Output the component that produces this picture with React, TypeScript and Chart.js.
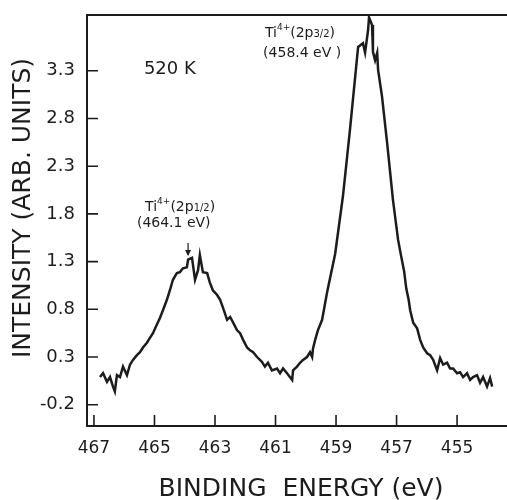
import React, { useEffect, useRef } from "react";
import { Chart, registerables } from "chart.js";

Chart.register(...registerables);

// Binding energy (eV), high to low
const energy = [
  466.8, 466.7, 466.57, 466.47, 466.37, 466.31, 466.24, 466.14, 466.04, 465.91,
  465.81, 465.71, 465.58, 465.48, 465.38, 465.25, 465.15, 465.05, 464.92, 464.82,
  464.72, 464.59, 464.49, 464.39, 464.26, 464.16, 464.06, 463.93, 463.89, 463.76,
  463.66, 463.56, 463.5, 463.4, 463.26, 463.17, 463.07, 462.93, 462.83, 462.74,
  462.6, 462.5, 462.4, 462.27, 462.17, 462.07, 461.94, 461.84, 461.74, 461.61,
  461.45, 461.35, 461.25, 461.12, 460.95, 460.85, 460.75, 460.62, 460.45, 460.42,
  460.29, 460.19, 460.09, 459.96, 459.86, 459.79, 459.76, 459.69, 459.6, 459.46,
  459.3, 459.03, 458.77, 458.54, 458.27, 458.11, 458.04, 457.94, 457.91, 457.81,
  457.78, 457.71, 457.64, 457.61, 457.48, 457.31, 457.12, 456.95, 456.85, 456.75,
  456.68, 456.6, 456.55, 456.45, 456.32, 456.22, 456.12, 455.99, 455.89, 455.79,
  455.66, 455.56, 455.46, 455.33, 455.23, 455.13, 455.0, 454.9, 454.8, 454.67,
  454.57, 454.47, 454.34, 454.24, 454.14, 454.01, 453.91, 453.84,
];

// Intensity (arb. units)
const intensity = [
  0.09, 0.13, 0.04, 0.09, -0.01, -0.06, 0.11, 0.09, 0.2, 0.11,
  0.22, 0.27, 0.32, 0.35, 0.4, 0.45, 0.5, 0.55, 0.64, 0.71,
  0.79, 0.9, 1.0, 1.11, 1.18, 1.19, 1.23, 1.24, 1.32, 1.34,
  1.11, 1.21, 1.37, 1.19, 1.18, 1.08, 1.0, 0.95, 0.9, 0.82,
  0.69, 0.72, 0.66, 0.58, 0.55, 0.48, 0.4, 0.37, 0.35, 0.3,
  0.25, 0.2, 0.24, 0.16, 0.18, 0.13, 0.18, 0.13, 0.06, 0.16,
  0.2, 0.24, 0.27, 0.3, 0.35, 0.3, 0.39, 0.48, 0.58, 0.69,
  0.97, 1.38, 1.99, 2.68, 3.55, 3.59, 3.49, 3.73, 3.86, 3.78,
  3.5, 3.41, 3.49, 3.31, 3.03, 2.54, 1.95, 1.53, 1.36, 1.2,
  1.02, 0.9, 0.79, 0.66, 0.6, 0.48, 0.4, 0.34, 0.32, 0.27,
  0.16, 0.29, 0.22, 0.24, 0.18, 0.18, 0.13, 0.14, 0.09, 0.13,
  0.06, 0.09, 0.11, 0.03, 0.09, -0.01, 0.08, -0.01,
];

const xTicks = [467, 465, 463, 461, 459, 457, 455];
const yTicks = [-0.2, 0.3, 0.8, 1.3, 1.8, 2.3, 2.8, 3.3];
const xMin = 453.35;
const xMax = 467.23;
const yMin = -0.423;
const yMax = 3.885;

const xTitle = "BINDING  ENERGY (eV)";
const yTitle = "INTENSITY (ARB. UNITS)";
const tempLabel = "520 K";

const FONT = "'DejaVu Sans', 'Liberation Sans', sans-serif";
const INK = "#1c1c1c";

type Seg = { t: string; size: number; dy: number };

// annotations: anchor in data units (eV, intensity)
const annotations: { x: number; y: number; segs: Seg[] }[] = [
  {
    x: 465.31,
    y: 1.83,
    segs: [
      { t: "Ti", size: 14, dy: 0 },
      { t: "4+", size: 9, dy: -7 },
      { t: "(2p", size: 14, dy: 0 },
      { t: "1/2", size: 10, dy: 0 },
      { t: ")", size: 14, dy: 0 },
    ],
  },
  { x: 465.58, y: 1.66, segs: [{ t: "(464.1 eV)", size: 14, dy: 0 }] },
  {
    x: 461.35,
    y: 3.65,
    segs: [
      { t: "Ti", size: 14, dy: 0 },
      { t: "4+", size: 9, dy: -7 },
      { t: "(2p", size: 14, dy: 0 },
      { t: "3/2", size: 10, dy: 0 },
      { t: ")", size: 14, dy: 0 },
    ],
  },
  { x: 461.41, y: 3.44, segs: [{ t: "(458.4 eV )", size: 14, dy: 0 }] },
];
const arrow = { x: 463.89, yFrom: 1.495, yTo: 1.37 };
const tempPos = { x: 465.35, y: 3.27 };

const decorPlugin = {
  id: "decor",
  afterDraw(chart: any) {
    const { ctx, chartArea } = chart;
    const xs = chart.scales.x;
    const ys = chart.scales.y;
    const { left, right, top, bottom } = chartArea;
    ctx.save();
    ctx.strokeStyle = INK;
    ctx.lineWidth = 2;
    ctx.beginPath();
    ctx.moveTo(right, top);
    ctx.lineTo(left, top);
    ctx.lineTo(left, bottom);
    ctx.lineTo(right, bottom);
    ctx.stroke();

    ctx.lineWidth = 1.6;
    ctx.beginPath();
    yTicks.forEach((v) => {
      const y = ys.getPixelForValue(v);
      ctx.moveTo(left, y);
      ctx.lineTo(left + 11, y);
    });
    xTicks.forEach((v) => {
      const x = xs.getPixelForValue(v);
      ctx.moveTo(x, bottom);
      ctx.lineTo(x, bottom - 11);
    });
    ctx.stroke();

    // arrow
    const ax = xs.getPixelForValue(arrow.x);
    const ay1 = ys.getPixelForValue(arrow.yFrom);
    const ay2 = ys.getPixelForValue(arrow.yTo);
    ctx.lineWidth = 1.2;
    ctx.beginPath();
    ctx.moveTo(ax, ay1);
    ctx.lineTo(ax, ay2);
    ctx.stroke();
    ctx.fillStyle = INK;
    ctx.beginPath();
    ctx.moveTo(ax, ay2 + 1);
    ctx.lineTo(ax - 3, ay2 - 5);
    ctx.lineTo(ax + 3, ay2 - 5);
    ctx.closePath();
    ctx.fill();

    // annotation text
    ctx.fillStyle = INK;
    ctx.textAlign = "left";
    ctx.textBaseline = "alphabetic";
    annotations.forEach((a) => {
      let x = xs.getPixelForValue(a.x);
      const y = ys.getPixelForValue(a.y);
      a.segs.forEach((s) => {
        ctx.font = `${s.size}px ${FONT}`;
        ctx.fillText(s.t, x, y + s.dy);
        x += ctx.measureText(s.t).width;
      });
    });
    ctx.font = `18px ${FONT}`;
    ctx.fillText(tempLabel, xs.getPixelForValue(tempPos.x), ys.getPixelForValue(tempPos.y));

    // axis titles
    ctx.font = `25px ${FONT}`;
    ctx.textAlign = "center";
    ctx.textBaseline = "middle";
    ctx.fillText(xTitle, 301, 489);
    ctx.translate(23, 208);
    ctx.rotate(-Math.PI / 2);
    ctx.fillText(yTitle, 0, 0);
    ctx.restore();
  },
};

export default function App() {
  const ref = useRef<HTMLCanvasElement | null>(null);
  useEffect(() => {
    if (!ref.current) return;
    const points = energy.map((e, i) => ({ x: e, y: intensity[i] }));
    const chart = new Chart(ref.current, {
      type: "line",
      data: {
        datasets: [
          {
            data: points,
            borderColor: INK,
            borderWidth: 2.5,
            pointRadius: 0,
            tension: 0,
            fill: false,
          },
        ],
      },
      options: {
        animation: false,
        responsive: false,
        events: [],
        layout: { padding: { top: 15, right: 0, left: 0, bottom: 0 } },
        plugins: { legend: { display: false }, tooltip: { enabled: false } },
        scales: {
          x: {
            type: "linear",
            reverse: true,
            min: xMin,
            max: xMax,
            grid: { display: false, drawTicks: false },
            border: { display: false },
            afterBuildTicks: (s: any) => {
              s.ticks = xTicks.map((v) => ({ value: v }));
            },
            afterFit: (s: any) => {
              s.height = 74;
              s.paddingLeft = 0;
              s.paddingRight = 0;
            },
            ticks: {
              color: INK,
              padding: 12,
              maxRotation: 0,
              font: { family: FONT, size: 17 },
              callback: (v: any) => String(v),
            },
          },
          y: {
            type: "linear",
            min: yMin,
            max: yMax,
            grid: { display: false, drawTicks: false },
            border: { display: false },
            afterBuildTicks: (s: any) => {
              s.ticks = yTicks.map((v) => ({ value: v }));
            },
            afterFit: (s: any) => {
              s.width = 87;
              s.paddingTop = 0;
              s.paddingBottom = 0;
            },
            ticks: {
              color: INK,
              padding: 12,
              font: { family: FONT, size: 18 },
              callback: (v: any) => Number(v).toFixed(1),
            },
          },
        },
      },
      plugins: [decorPlugin],
    });
    return () => chart.destroy();
  }, []);
  return (
    <div style={{ position: "fixed", left: 0, top: 0, width: 507, height: 500, background: "#fff" }}>
      <canvas ref={ref} width={507} height={500} style={{ display: "block" }} />
    </div>
  );
}
